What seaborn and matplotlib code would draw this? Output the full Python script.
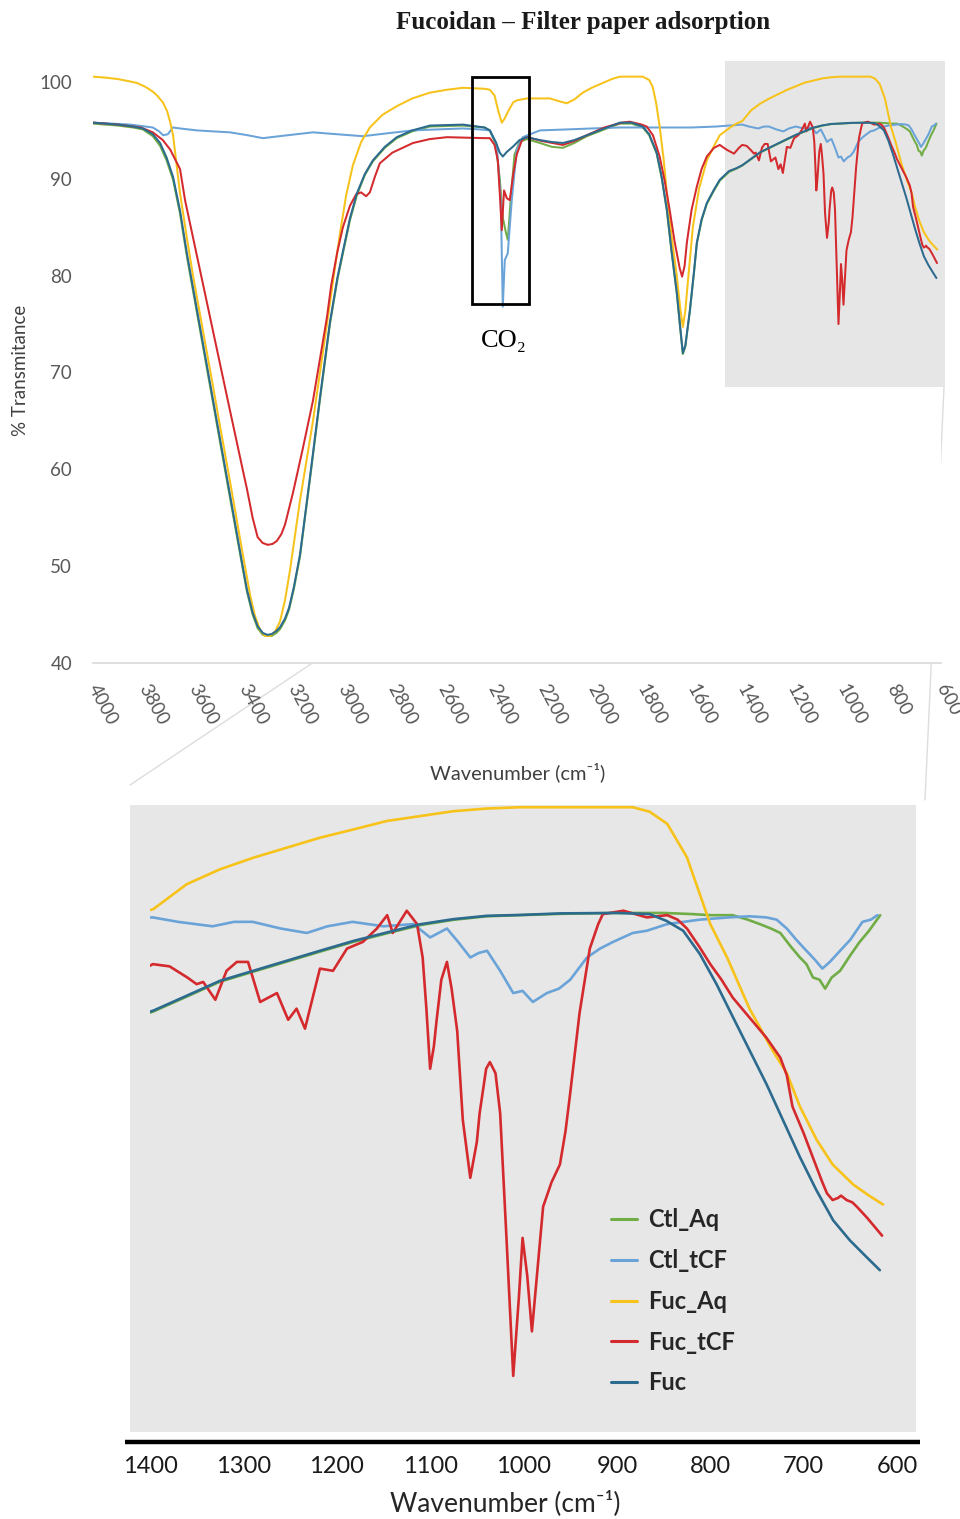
import numpy as np
import pandas as pd
import matplotlib
matplotlib.use("Agg")
import matplotlib.pyplot as plt
import seaborn as sns
from matplotlib.patches import Rectangle
from matplotlib.lines import Line2D

# ---------------- data: (wavenumber, %T) ----------------
series_names = ["Ctl_Aq", "Ctl_tCF", "Fuc_Aq", "Fuc_tCF", "Fuc"]
series_colors = ["#70ad47", "#6aa3d8", "#f7c21a", "#d42a2e", "#2c6a8e"]

ctl_aq = [(4000, 95.7), (3900, 95.5), (3840, 95.3), (3800, 95.1), (3760, 94.4), (3731, 93.4),
          (3705, 91.9), (3679, 89.9), (3651, 86.4), (3623, 81.9), (3571, 74.4), (3519, 66.9),
          (3451, 57.1), (3400, 49.8), (3383, 47.4), (3360, 45.0), (3340, 43.6), (3319, 42.9),
          (3300, 42.8), (3283, 42.8), (3265, 43.1), (3250, 43.5), (3230, 44.4), (3214, 45.5),
          (3195, 47.6), (3170, 51.0), (3130, 59.0), (3090, 67.2), (3050, 75.0), (3020, 79.6),
          (2998, 82.3), (2970, 85.7), (2942, 88.3), (2910, 90.4), (2878, 91.8), (2830, 93.2),
          (2782, 94.2), (2720, 94.9), (2649, 95.4), (2517, 95.5), (2430, 95.3), (2409, 95.0),
          (2385, 93.5), (2369, 90.0), (2357, 86.0), (2345, 84.5), (2337, 83.7), (2325, 88.0),
          (2310, 92.5), (2290, 93.8), (2261, 94.1), (2208, 93.7), (2160, 93.3), (2116, 93.2),
          (2070, 93.7), (2020, 94.4), (1950, 95.1), (1888, 95.7), (1840, 95.7), (1796, 95.3),
          (1770, 94.5), (1740, 92.6), (1720, 90.1), (1699, 86.7), (1680, 82.4), (1659, 78.1),
          (1645, 74.4), (1635, 71.9), (1625, 72.7), (1607, 76.3), (1590, 80.4), (1579, 83.3),
          (1560, 85.7), (1539, 87.4), (1510, 88.8), (1487, 89.8), (1450, 90.7), (1420, 91.05),
          (1396.5, 91.37), (1360.7, 92.04), (1325.1, 92.71), (1289.4, 93.16), (1253.7, 93.61),
          (1218, 94.06), (1182.3, 94.5), (1146.6, 94.88), (1110.9, 95.25), (1075.3, 95.49),
          (1039.5, 95.65), (1003.9, 95.7), (960, 95.76), (900, 95.8), (850, 95.8), (820, 95.75),
          (800, 95.7), (776, 95.7), (760, 95.5), (747, 95.3), (735, 95.1), (725, 94.9), (714, 94.3),
          (704, 93.8), (697, 93.5), (690, 92.9), (683, 92.8), (677, 92.4), (670, 92.9), (661, 93.2),
          (650, 93.9), (640, 94.5), (630, 95.0), (618, 95.7)]

ctl_tcf = [(4000, 95.8), (3850, 95.6), (3760, 95.3), (3735, 94.9), (3719, 94.5), (3700, 94.6),
           (3680, 95.3), (3651, 95.2), (3583, 95.0), (3520, 94.9), (3451, 94.8), (3380, 94.5),
           (3319, 94.2), (3220, 94.5), (3118, 94.8), (3020, 94.6), (2918, 94.4), (2820, 94.7),
           (2717, 95.0), (2620, 95.1), (2517, 95.2), (2450, 95.1), (2409, 95.0), (2381, 93.5),
           (2365, 87.8), (2357, 76.8), (2349, 81.6), (2337, 82.3), (2321, 87.8), (2301, 93.0),
           (2277, 94.3), (2208, 95.0), (2100, 95.1), (2000, 95.2), (1888, 95.3), (1750, 95.3),
           (1600, 95.3), (1500, 95.4), (1450, 95.5), (1397, 95.6), (1370, 95.4), (1333, 95.2),
           (1310, 95.4), (1290, 95.4), (1260, 95.1), (1232, 94.9), (1210, 95.2), (1183, 95.4),
           (1150, 95.2), (1118, 95.3), (1100, 94.7), (1082, 95.1), (1070, 94.5), (1057, 93.8),
           (1048, 94.0), (1039, 94.1), (1025, 93.2), (1011, 92.2), (1001, 92.3), (990, 91.8),
           (975, 92.2), (962, 92.4), (950, 92.8), (932, 93.8), (918, 94.2), (904, 94.5),
           (883, 94.9), (868, 95.0), (846, 95.3), (811, 95.5), (780, 95.6), (758, 95.65),
           (740, 95.6), (729, 95.5), (718, 95.1), (708, 94.6), (697, 94.1), (688, 93.7),
           (680, 93.3), (672, 93.6), (661, 94.1), (650, 94.6), (637, 95.4), (628, 95.5), (621, 95.7)]

fuc_aq = [(4000, 100.55), (3950, 100.45), (3900, 100.3), (3860, 100.1), (3824, 99.9), (3790, 99.5),
          (3760, 99.0), (3743, 98.6), (3720, 97.9), (3703, 97.0), (3690, 95.8), (3679, 94.5),
          (3665, 91.5), (3651, 88.5), (3623, 83.8), (3599, 80.0), (3571, 76.0), (3519, 68.6),
          (3491, 64.5), (3451, 58.8), (3400, 51.3), (3370, 47.0), (3351, 44.9), (3330, 43.4),
          (3311, 42.8), (3290, 42.8), (3271, 43.2), (3250, 44.3), (3230, 46.5), (3210, 49.6),
          (3170, 56.8), (3118, 65.0), (3062, 75.0), (3030, 80.8), (3010, 84.3), (2985, 88.3),
          (2958, 91.4), (2925, 93.8), (2890, 95.3), (2840, 96.6), (2782, 97.5), (2720, 98.3),
          (2649, 98.9), (2580, 99.2), (2517, 99.4), (2430, 99.3), (2409, 99.2), (2390, 98.6),
          (2375, 97.0), (2361, 95.8), (2350, 96.2), (2335, 97.0), (2315, 97.9), (2301, 98.1),
          (2261, 98.3), (2168, 98.3), (2130, 98.0), (2100, 97.8), (2070, 98.2), (2036, 98.9),
          (2000, 99.4), (1956, 99.9), (1920, 100.3), (1888, 100.55), (1796, 100.55), (1770, 100.2),
          (1756, 99.5), (1742, 97.8), (1728, 95.4), (1712, 92.0), (1699, 88.5), (1680, 84.0),
          (1659, 79.9), (1645, 76.5), (1635, 74.7), (1625, 76.4), (1619, 78.2), (1595, 85.0),
          (1570, 89.0), (1539, 91.9), (1510, 93.4), (1487, 94.5), (1440, 95.4), (1420, 95.7),
          (1396.5, 95.97), (1360.7, 97.09), (1325.1, 97.76), (1289.4, 98.28), (1253.7, 98.73),
          (1218, 99.18), (1182.3, 99.55), (1146.6, 99.93), (1110.9, 100.15), (1075.3, 100.37),
          (1039.5, 100.49), (1003.9, 100.55), (883, 100.55), (865, 100.35), (846, 99.8),
          (825, 98.3), (800, 95.3), (782, 93.8), (758, 91.5), (733, 89.6), (718, 88.6),
          (704, 87.1), (686, 85.6), (669, 84.5), (647, 83.6), (630, 83.1), (615, 82.7)]

fuc_tcf = [(4000, 95.8), (3900, 95.6), (3808, 95.3), (3760, 94.8), (3720, 94.0), (3690, 93.0),
           (3651, 91.0), (3631, 87.8), (3583, 82.0), (3519, 74.3), (3451, 66.1), (3400, 60.0),
           (3383, 58.0), (3360, 55.0), (3340, 53.0), (3320, 52.4), (3299, 52.2), (3280, 52.3),
           (3263, 52.6), (3245, 53.3), (3230, 54.3), (3198, 57.6), (3160, 62.0), (3118, 67.1),
           (3090, 71.4), (3062, 75.7), (3045, 79.0), (3020, 82.5), (2998, 85.0), (2970, 87.2),
           (2945, 88.4), (2925, 88.6), (2905, 88.2), (2890, 88.6), (2870, 90.2), (2850, 91.6),
           (2800, 92.7), (2717, 93.7), (2650, 94.1), (2581, 94.3), (2430, 94.2), (2409, 94.2),
           (2390, 93.5), (2377, 91.9), (2369, 88.5), (2361, 84.7), (2352, 88.8), (2341, 88.0),
           (2329, 87.8), (2315, 90.5), (2301, 92.5), (2280, 94.0), (2261, 94.3), (2200, 93.9),
           (2116, 93.5), (2070, 93.9), (2020, 94.5), (1950, 95.3), (1880, 95.8), (1848, 95.9),
           (1800, 95.6), (1780, 95.4), (1755, 94.5), (1728, 92.3), (1708, 89.8), (1688, 86.8),
           (1668, 83.5), (1648, 80.8), (1638, 79.9), (1628, 81.0), (1619, 83.4), (1600, 86.8),
           (1579, 89.2), (1560, 91.0), (1539, 92.3), (1510, 93.2), (1487, 93.5), (1459, 93.0),
           (1430, 92.6), (1410, 93.2), (1397, 93.5), (1379, 93.4), (1360, 92.9), (1350, 92.6),
           (1343, 92.7), (1330, 91.9), (1318, 93.2), (1307, 93.6), (1295, 93.6), (1282, 91.8),
           (1264, 92.2), (1252, 91.0), (1243, 91.5), (1234, 90.6), (1218, 93.3), (1204, 93.2),
           (1189, 94.2), (1172, 94.5), (1157, 95.1), (1146, 95.7), (1140, 94.9), (1125, 95.9),
           (1114, 95.3), (1108, 93.8), (1104, 91.5), (1100, 88.8), (1096, 89.8), (1093, 91.0),
           (1088, 92.8), (1082, 93.6), (1077, 92.4), (1071, 90.5), (1065, 86.5), (1057, 83.9),
           (1050, 85.5), (1047, 86.8), (1040, 88.8), (1036, 89.1), (1030, 88.6), (1025, 86.8),
           (1018, 81.0), (1011, 75.0), (1005, 78.5), (1001, 81.2), (996, 79.5), (991, 77.0),
           (985, 79.8), (979, 82.6), (970, 83.7), (961, 84.5), (955, 86.0), (950, 87.7),
           (940, 91.3), (929, 94.2), (920, 95.3), (915, 95.75), (893, 95.9), (868, 95.6),
           (846, 95.7), (835, 95.5), (825, 95.1), (812, 94.3), (800, 93.5), (788, 92.8),
           (776, 92.0), (758, 91.1), (740, 90.2), (725, 89.3), (718, 88.5), (712, 87.1),
           (700, 85.9), (690, 84.8), (680, 83.7), (675, 83.2), (669, 82.9), (663, 83.0),
           (660, 83.1), (654, 82.9), (648, 82.8), (643, 82.6), (632, 82.1), (624, 81.7), (616, 81.3)]

fuc = [(4000, 95.8), (3900, 95.6), (3840, 95.4), (3800, 95.2), (3760, 94.6), (3731, 93.7),
       (3705, 92.2), (3679, 90.2), (3651, 86.7), (3623, 82.2), (3571, 74.7), (3519, 67.2),
       (3451, 57.4), (3400, 50.0), (3383, 47.6), (3360, 45.2), (3340, 43.8), (3319, 43.1),
       (3300, 42.9), (3283, 43.0), (3265, 43.3), (3250, 43.7), (3230, 44.6), (3214, 45.7),
       (3195, 47.8), (3170, 51.2), (3130, 59.2), (3090, 67.4), (3050, 75.2), (3020, 79.8),
       (2998, 82.5), (2970, 85.9), (2942, 88.5), (2910, 90.5), (2878, 91.9), (2830, 93.3),
       (2782, 94.3), (2720, 95.0), (2649, 95.5), (2517, 95.6), (2430, 95.3), (2409, 95.0),
       (2385, 93.8), (2369, 92.7), (2357, 92.3), (2340, 92.8), (2317, 93.3), (2290, 94.0),
       (2261, 94.3), (2208, 94.0), (2160, 93.8), (2116, 93.7), (2070, 94.0), (2020, 94.5),
       (1950, 95.2), (1888, 95.8), (1840, 95.8), (1796, 95.4), (1770, 94.6), (1740, 92.7),
       (1720, 90.2), (1699, 86.8), (1680, 82.5), (1659, 78.2), (1645, 74.5), (1635, 72.0),
       (1625, 72.8), (1607, 76.4), (1590, 80.5), (1579, 83.4), (1560, 85.8), (1539, 87.5),
       (1510, 88.9), (1487, 89.9), (1450, 90.8), (1420, 91.1), (1396.5, 91.41), (1360.7, 92.08),
       (1325.1, 92.75), (1289.4, 93.2), (1253.7, 93.65), (1218, 94.1), (1182.3, 94.54),
       (1146.6, 94.92), (1110.9, 95.29), (1075.3, 95.52), (1039.5, 95.67), (1003.9, 95.71),
       (960, 95.78), (900, 95.8), (865, 95.75), (846.8, 95.44), (829, 95.0), (811.1, 93.95),
       (793.3, 92.6), (775.5, 91.1), (757.6, 89.6), (739.7, 88.1), (721.9, 86.47), (704, 84.83),
       (686.2, 83.33), (668.4, 81.99), (650.5, 81.09), (632.7, 80.34), (618.4, 79.75)]

top_xticks = list(range(4000, 599, -200))
top_yticks = [40, 50, 60, 70, 80, 90, 100]
bottom_xticks = list(range(1400, 599, -100))

# ---------------- long table ----------------
frames = []
for name, pts in zip(series_names, [ctl_aq, ctl_tcf, fuc_aq, fuc_tcf, fuc]):
    frames.append(pd.DataFrame(pts, columns=["wn", "T"]).assign(series=name))
df = pd.concat(frames, ignore_index=True)
palette = dict(zip(series_names, series_colors))

# ---------------- figure ----------------
sns.set_theme(style="white")
plt.rcParams['font.family'] = ['Lato', 'DejaVu Sans']

W, H = 960, 1519
fig = plt.figure(figsize=(W / 100, H / 100), dpi=100)


def ax_rect(l, t, r, b):
    return [l / W, 1 - b / H, (r - l) / W, (b - t) / H]


# ---- top (full spectrum) ----
ax1 = fig.add_axes(ax_rect(93, 75.2, 941, 663))
sns.lineplot(data=df, x="wn", y="T", hue="series", hue_order=series_names, palette=palette,
             estimator=None, sort=True, linewidth=1.45, legend=False, ax=ax1, zorder=3)
ax1.set_xlim(4000, 600)
ax1.set_ylim(40, 100.7)
ax1.set_xticks(top_xticks)
ax1.set_yticks(top_yticks)
ax1.set_xlabel("")
ax1.set_ylabel("")
for s in ["top", "right", "left"]:
    ax1.spines[s].set_visible(False)
ax1.spines["bottom"].set_color("#d9d9d9")
ax1.spines["bottom"].set_linewidth(1.2)
ax1.tick_params(axis="both", length=0, labelcolor="#595959", labelsize=13.5)
ax1.tick_params(axis="x", pad=16)
ax1.tick_params(axis="y", pad=15)
for lab in ax1.get_xticklabels():
    lab.set_rotation(-62)
    lab.set_ha("left")
    lab.set_va("center")
    lab.set_rotation_mode("anchor")

# gray zoom region
ax1.add_patch(Rectangle((585, 68.5), 1467 - 585, 102.17 - 68.5, facecolor="#e6e6e6",
                        edgecolor="none", zorder=0.5, clip_on=False))
# CO2 box
ax1.add_patch(Rectangle((2252, 77.07), 2482 - 2252, 100.5 - 77.07, fill=False,
                        edgecolor="black", linewidth=2, zorder=5))
ax1.text(2353, 73.3, "CO₂", ha="center", va="center", fontsize=19,
         family=["Liberation Serif", "DejaVu Serif"], color="black")

fig.text(21 / W, 1 - 370 / H, "% Transmitance", rotation=90, ha="center", va="center",
         fontsize=13.5, color="#404040")
fig.text(518 / W, 1 - 772 / H, "Wavenumber (cm⁻¹)", ha="center", va="center",
         fontsize=14.5, color="#404040")
fig.text(583 / W, 1 - 22 / H, "Fucoidan – Filter paper adsorption", ha="center", va="center",
         fontsize=18, fontweight="bold", family=["Liberation Serif", "DejaVu Serif"],
         color="#1a1a1a")

# connector lines
fig.add_artist(Line2D([725 / W, 130 / W], [1 - 387 / H, 1 - 785 / H], color="#dddddd",
                      linewidth=1, zorder=0))
fig.add_artist(Line2D([944 / W, 925 / W], [1 - 387 / H, 1 - 800 / H], color="#dddddd",
                      linewidth=1, zorder=0))

# ---- bottom (zoomed fingerprint region) ----
L2, R2 = 149.5, 916
ax2 = fig.add_axes(ax_rect(L2, 805, R2, 1442))
ax2.set_facecolor("none")
wa = R2 - L2
ax2.add_patch(Rectangle(((130 - L2) / wa, 10 / 637), (916 - 130) / wa, 1 - 10 / 637,
                        transform=ax2.transAxes, facecolor="#e7e7e7", edgecolor="none",
                        zorder=0, clip_on=False))
sns.lineplot(data=df, x="wn", y="T", hue="series", hue_order=series_names, palette=palette,
             estimator=None, sort=True, linewidth=1.9, legend=False, ax=ax2, zorder=3)
ax2.set_xlim(1400.5, 579.7)
ax2.set_ylim(72.03, 100.65)
ax2.set_xticks(bottom_xticks)
ax2.set_yticks([])
ax2.set_xlabel("")
ax2.set_ylabel("")
for s in ["top", "right", "left", "bottom"]:
    ax2.spines[s].set_visible(False)
ax2.tick_params(axis="x", length=0, labelsize=17, labelcolor="#1a1a1a", pad=10)
fig.add_artist(Line2D([125 / W, 920 / W], [1 - 1442 / H, 1 - 1442 / H], color="black",
                      linewidth=3.2, solid_capstyle="butt"))

fig.text(505 / W, 1 - 1503 / H, "Wavenumber (cm⁻¹)", ha="center", va="center",
         fontsize=19, color="#262626")

handles = [Line2D([0], [0], color=c, linewidth=2.2) for c in series_colors]
ax2.legend(handles, series_names, loc="upper left", bbox_to_anchor=(0.575, 0.40),
           frameon=False, handlelength=1.1, handletextpad=0.45, labelspacing=0.75,
           prop={"family": ["Lato", "DejaVu Sans"], "weight": "bold", "size": 17})

fig.savefig("out.png", dpi=100)
